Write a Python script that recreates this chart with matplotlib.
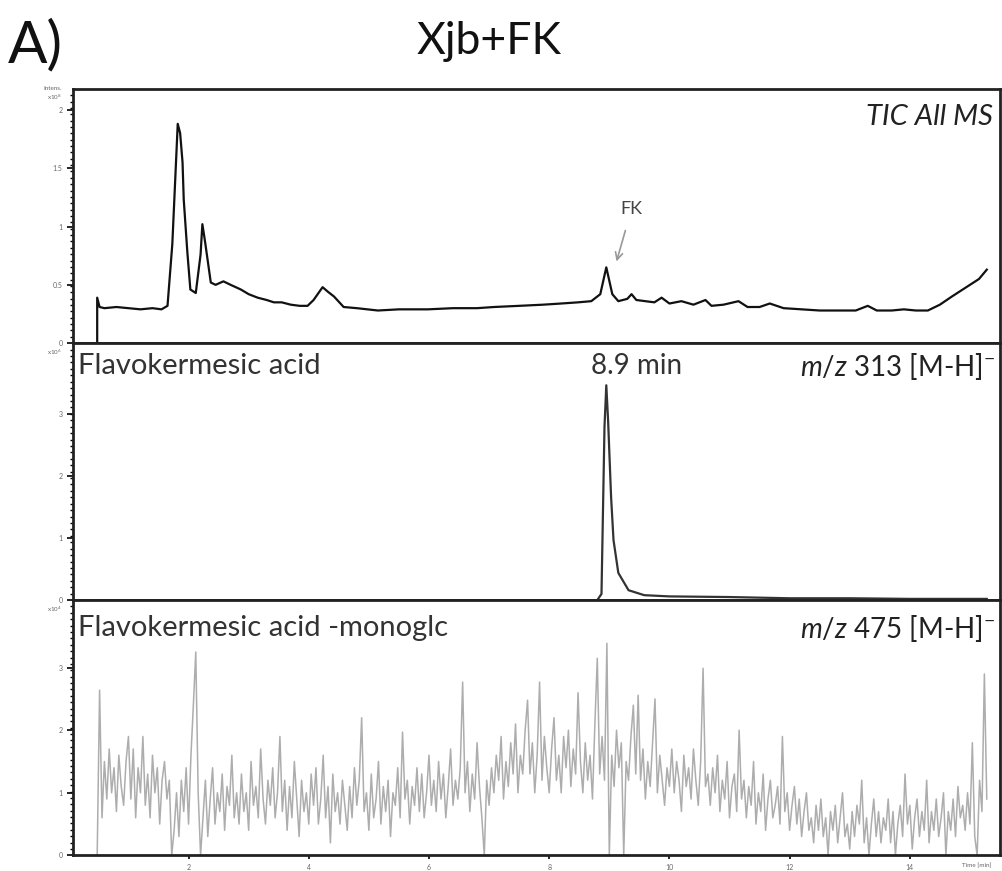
import numpy as np
import matplotlib.pyplot as plt

plt.rcParams['font.family'] = ['Lato', 'DejaVu Sans']
plt.rcParams['mathtext.fontset'] = 'custom'
plt.rcParams['mathtext.rm'] = 'Lato'
plt.rcParams['mathtext.it'] = 'Lato:italic'

# TIC All MS (x1e8)
tic_t = [0.48, 0.48, 0.52, 0.6, 0.8, 1.0, 1.2, 1.4, 1.55, 1.65, 1.73, 1.82, 1.86, 1.90, 1.92,
         1.98, 2.03, 2.12, 2.20, 2.23, 2.26, 2.28, 2.37, 2.45, 2.58, 2.7, 2.87, 3.0, 3.15, 3.3,
         3.42, 3.55, 3.70, 3.85, 3.98, 4.08, 4.23, 4.32, 4.42, 4.58, 4.8, 5.15, 5.5, 5.98, 6.4,
         6.8, 7.08, 7.5, 7.9, 8.2, 8.48, 8.7, 8.85, 8.95, 9.05, 9.15, 9.3, 9.37, 9.45, 9.6,
         9.75, 9.87, 10.0, 10.2, 10.4, 10.6, 10.7, 10.9, 11.15, 11.3, 11.5, 11.67, 11.9, 12.2,
         12.5, 12.8, 13.1, 13.3, 13.45, 13.7, 13.9, 14.1, 14.3, 14.5, 14.7, 14.85, 15.0, 15.15,
         15.28]
tic_y = [0.0, 0.39, 0.31, 0.30, 0.31, 0.30, 0.29, 0.30, 0.29, 0.32, 0.85, 1.88, 1.80, 1.55, 1.23,
         0.78, 0.46, 0.43, 0.76, 1.02, 0.92, 0.85, 0.52, 0.50, 0.53, 0.50, 0.46, 0.42, 0.39, 0.37,
         0.35, 0.35, 0.33, 0.32, 0.32, 0.37, 0.48, 0.44, 0.40, 0.31, 0.30, 0.28, 0.29, 0.29, 0.30,
         0.30, 0.31, 0.32, 0.33, 0.34, 0.35, 0.36, 0.42, 0.65, 0.42, 0.36, 0.38, 0.42, 0.37, 0.36,
         0.35, 0.39, 0.34, 0.36, 0.33, 0.37, 0.32, 0.33, 0.36, 0.31, 0.31, 0.34, 0.30, 0.29,
         0.28, 0.28, 0.28, 0.32, 0.28, 0.28, 0.29, 0.28, 0.28, 0.33, 0.40, 0.45, 0.50, 0.55,
         0.63]

# EIC m/z 313
m313_t = [0.48, 8.8, 8.87, 8.92, 8.95, 8.98, 9.03, 9.07, 9.15, 9.32, 9.58, 10.0, 10.98, 12.0,
          13.0, 14.0, 15.28]
m313_y = [0.0, 0.0, 0.1, 2.8, 3.47, 2.9, 1.66, 0.97, 0.44, 0.16, 0.08, 0.06, 0.05, 0.03,
          0.03, 0.02, 0.02]

# EIC m/z 475 (noise), one scan every 0.04 min from 0.48 min
m475_t0 = 0.48
m475_dt = 0.04
m475_y = [0.0, 2.64, 0.6, 1.5, 0.9, 1.7, 1.0, 1.4, 0.7, 1.6, 1.1, 0.8, 1.5, 1.9, 0.9,
          1.7, 0.6, 1.4, 1.0, 1.9, 0.8, 1.3, 0.6, 1.6, 1.0, 1.4, 0.5, 1.2, 1.5, 0.9,
          1.2, 0.0, 0.4, 1.0, 0.3, 1.2, 0.7, 1.4, 0.5, 1.6, 2.4, 3.25, 1.0, 0.0, 0.6,
          1.2, 0.3, 0.9, 1.4, 0.5, 1.0, 0.7, 1.3, 0.4, 1.1, 0.8, 1.6, 0.6, 1.0, 0.5,
          1.3, 0.7, 1.0, 0.4, 1.5, 0.8, 1.1, 0.6, 1.7, 0.9, 0.5, 1.2, 0.8, 1.4, 0.6,
          1.0, 1.9, 0.7, 1.2, 0.4, 1.1, 0.6, 1.5, 0.9, 0.3, 1.2, 0.7, 1.0, 0.5, 1.3,
          0.8, 1.4, 0.5, 0.9, 1.6, 0.6, 1.1, 0.2, 1.3, 0.7, 1.0, 0.5, 1.2, 0.8, 0.4,
          1.1, 0.6, 1.4, 0.8, 1.2, 2.2, 0.7, 1.0, 0.4, 1.3, 0.6, 0.9, 1.5, 0.5, 1.1,
          0.7, 1.2, 0.3, 1.0, 0.8, 1.4, 0.6, 1.97, 0.9, 1.2, 0.5, 1.1, 0.8, 1.4, 0.7,
          1.3, 0.6, 1.0, 1.6, 0.8, 1.2, 0.7, 1.5, 0.9, 1.3, 0.6, 1.1, 1.7, 0.8, 1.2,
          0.9, 1.4, 2.77, 1.0, 1.5, 0.7, 1.3, 0.9, 1.8, 1.1, 0.6, 0.0, 1.2, 0.8, 1.4,
          1.0, 1.6, 1.2, 1.9, 0.9, 1.5, 1.1, 1.8, 1.3, 2.1, 1.0, 1.6, 1.3, 2.0, 2.48,
          1.3, 1.8, 1.0, 1.6, 2.77, 1.2, 1.9, 1.4, 1.0, 1.7, 2.2, 1.2, 1.6, 1.0, 1.9,
          1.4, 2.0, 1.1, 1.7, 1.3, 2.6, 1.5, 1.0, 1.8, 1.2, 1.6, 0.9, 2.1, 3.15, 1.3,
          1.9, 1.2, 3.39, 0.0, 1.6, 1.1, 2.0, 1.4, 1.8, 0.0, 1.5, 1.2, 1.9, 2.4, 1.3,
          2.56, 1.2, 1.7, 0.9, 1.5, 1.1, 1.8, 2.5, 1.0, 1.6, 1.2, 0.8, 1.4, 1.1, 1.7,
          1.0, 1.5, 1.2, 0.7, 1.6, 1.1, 1.4, 0.9, 1.7, 1.2, 0.8, 1.5, 2.99, 1.1, 1.3,
          0.8, 1.4, 1.0, 1.6, 0.7, 1.2, 0.9, 1.5, 0.6, 1.1, 1.3, 0.7, 2.0, 0.9, 1.2,
          0.6, 1.1, 0.8, 1.5, 0.5, 1.0, 0.7, 1.3, 0.4, 0.9, 1.2, 0.6, 0.8, 1.1, 0.5,
          1.9, 0.7, 1.0, 0.4, 0.8, 1.1, 0.5, 0.9, 0.3, 0.7, 1.0, 0.4, 0.6, 0.2, 0.8,
          0.4, 0.9, 0.3, 0.6, 0.0, 0.7, 0.4, 0.8, 0.2, 0.6, 1.0, 0.3, 0.5, 0.1, 0.7,
          0.3, 0.8, 0.5, 1.2, 0.2, 0.6, 0.0, 0.5, 0.9, 0.3, 0.7, 0.2, 0.6, 0.4, 0.9,
          0.2, 0.7, 0.0, 0.5, 0.8, 0.3, 1.3, 0.5, 0.8, 0.1, 0.6, 0.9, 0.3, 0.7, 0.4,
          1.2, 0.2, 0.7, 0.4, 0.9, 0.3, 0.6, 1.0, 0.0, 0.7, 0.4, 0.9, 0.3, 1.1, 0.6,
          0.8, 0.4, 1.0, 0.5, 1.8, 0.3, 0.0, 1.2, 0.7, 2.9, 0.9]
m475_t = m475_t0 + m475_dt * np.arange(len(m475_y))

x_ticks = [2, 4, 6, 8, 10, 12, 14]

fig = plt.figure(figsize=(10.02, 8.71), dpi=100)
ax1 = fig.add_axes([0.073, 0.606, 0.925, 0.292])
ax2 = fig.add_axes([0.073, 0.311, 0.925, 0.295])
ax3 = fig.add_axes([0.073, 0.018, 0.925, 0.293])

def style(ax, ymax, yticks, mult):
    ax.set_xlim(0.08, 15.5)
    ax.set_ylim(0, ymax)
    ax.set_yticks(yticks)
    ax.set_yticklabels([f'{v:g}' for v in yticks], fontsize=5, color='#666')
    ax.set_yticks(np.arange(0, ymax, ymax / 40), minor=True)
    ax.tick_params(axis='y', which='major', length=4, width=1.2)
    ax.tick_params(axis='y', which='minor', length=2, width=1)
    for s in ax.spines.values():
        s.set_linewidth(2.0)
        s.set_color('#222')
    ax.text(-0.012, 0.965, mult, transform=ax.transAxes, fontsize=4.5,
            color='#666', ha='right', va='center')

style(ax1, 2.18, [0, 0.5, 1.0, 1.5, 2.0], 'x10$^8$')
style(ax2, 4.15, [0, 1, 2, 3], 'x10$^6$')
style(ax3, 4.08, [0, 1, 2, 3], 'x10$^4$')
ax1.text(-0.012, 1.0, 'Intens.', transform=ax1.transAxes, fontsize=4.5,
         color='#666', ha='right', va='center')

for ax in (ax1, ax2):
    ax.set_xticks([])
ax3.set_xticks(x_ticks)
ax3.set_xticklabels([str(v) for v in x_ticks], fontsize=5, color='#666')
ax3.tick_params(axis='x', length=3, width=1.2)
ax3.text(0.975, -0.03, 'Time [min]', transform=ax3.transAxes, fontsize=4.5,
         color='#666', ha='center', va='top')

ax1.plot(tic_t, tic_y, color='#111', lw=1.6)
ax2.plot(m313_t, m313_y, color='#333', lw=1.6)
ax3.plot(m475_t, m475_y, color='#adadad', lw=1.1)

# labels inside panels
ax1.text(0.992, 0.89, 'TIC All MS', transform=ax1.transAxes, fontsize=21,
         style='italic', ha='right', va='center', color='#222')
ax1.annotate('FK', xy=(9.12, 0.70), xytext=(9.37, 1.15), fontsize=13, color='#444',
             ha='center', va='center',
             arrowprops=dict(arrowstyle='->', color='#999', lw=1.2, shrinkA=8, shrinkB=0))

ax2.text(0.005, 0.91, 'Flavokermesic acid', transform=ax2.transAxes, fontsize=21,
         ha='left', va='center', color='#333')
ax2.text(8.7, 0.91, '8.9 min', transform=ax2.get_xaxis_transform(), fontsize=20,
         ha='left', va='center', color='#333')
ax2.text(0.995, 0.91, r'$\mathit{m/z\ 313}$ [M-H]$^{-}$', transform=ax2.transAxes,
         fontsize=20, ha='right', va='center', color='#222')

ax3.text(0.005, 0.89, 'Flavokermesic acid -monoglc', transform=ax3.transAxes, fontsize=21,
         ha='left', va='center', color='#333')
ax3.text(0.995, 0.89, r'$\mathit{m/z\ 475}$ [M-H]$^{-}$', transform=ax3.transAxes,
         fontsize=20, ha='right', va='center', color='#222')

fig.text(0.008, 0.948, 'A)', fontsize=42, ha='left', va='center', color='#111')
fig.text(0.488, 0.952, 'Xjb+FK', fontsize=32, ha='center', va='center', color='#111')

fig.savefig('out.png', dpi=100)
